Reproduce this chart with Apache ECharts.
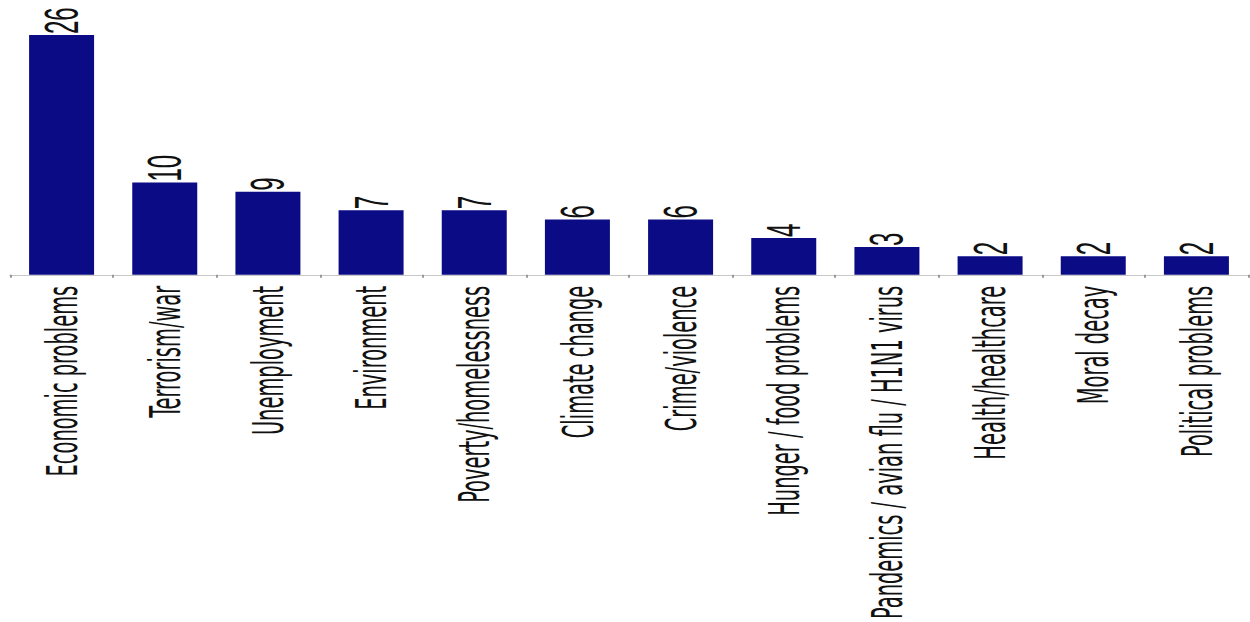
<!DOCTYPE html>
<html>
<head>
<meta charset="utf-8">
<script src="https://cdn.jsdelivr.net/npm/echarts@6/dist/echarts.min.js"></script>
<style>
  html, body { margin: 0; padding: 0; background: #fff; overflow: hidden; }
  /* the source picture is stretched sideways, so the chart is drawn at half width and scaled */
  #bar-chart {
    width: 625px;
    height: 622px;
    transform: scaleX(2);
    transform-origin: 0 0;
  }
</style>
</head>
<body>
<div id="bar-chart"></div>
<script>
const categories = [
  'Economic problems', 'Terrorism/war', 'Unemployment', 'Environment',
  'Poverty/homelessness', 'Climate change', 'Crime/violence', 'Hunger / food problems',
  'Pandemics / avian flu / H1N1 virus', 'Health/healthcare', 'Moral decay', 'Political problems'
];
const values = [26, 10, 9, 7, 7, 6, 6, 4, 3, 2, 2, 2];

const labelFont = "'DejaVu Sans Condensed', 'DejaVu Sans', sans-serif";

let myChart = echarts.init(document.getElementById('bar-chart'), null, { renderer: 'svg' });

let option = {
  animation: false,
  grid: {
    left: 5,
    right: 1,
    top: 35,
    bottom: 347,
    containLabel: false
  },
  xAxis: {
    type: 'category',
    data: categories,
    axisLine: { lineStyle: { color: '#c8c8c8', width: 1 } },
    axisTick: { show: true, length: 3, lineStyle: { color: '#999' } },
    axisLabel: {
      rotate: 90,
      margin: 11,
      interval: 0,
      color: '#111',
      fontFamily: labelFont,
      fontSize: 21.6
    }
  },
  yAxis: {
    type: 'value',
    min: 0,
    max: 26,
    show: false,
    splitLine: { show: false }
  },
  series: [
    {
      type: 'bar',
      data: values,
      barCategoryGap: '37%',
      itemStyle: { color: '#0b0b86' },
      label: {
        show: true,
        position: 'top',
        rotate: 90,
        align: 'left',
        verticalAlign: 'middle',
        distance: 3,
        offset: [-2, 0],
        color: '#111',
        fontFamily: "'Liberation Sans', Arial, sans-serif",
        fontSize: 24
      }
    }
  ]
};

option && myChart.setOption(option);
</script>
</body>
</html>
